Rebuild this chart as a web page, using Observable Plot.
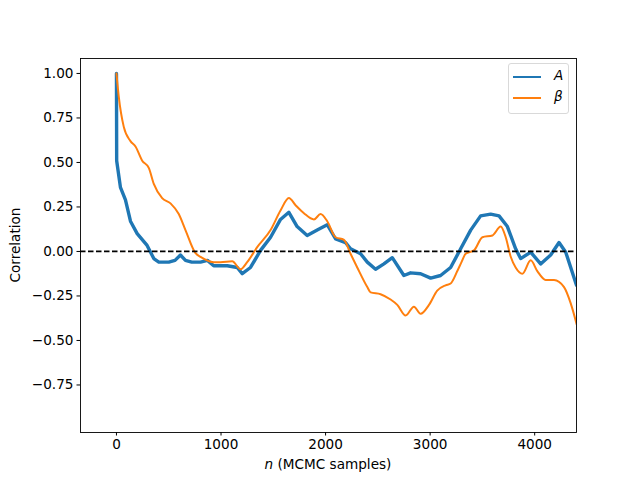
<!DOCTYPE html>
<html><head><meta charset="utf-8">
<script src="https://cdn.jsdelivr.net/npm/d3@7"></script>
<script src="https://cdn.jsdelivr.net/npm/@observablehq/plot@0.6"></script>
<style>
body{margin:0;background:#fff;font-family:"DejaVu Sans",sans-serif;}
#wrap{position:relative;width:640px;height:480px;}
.lab{position:absolute;font-size:13.6px;color:#000;white-space:nowrap;line-height:16px;}
#legend{position:absolute;left:508px;top:63px;width:61px;height:51px;box-sizing:border-box;border:1px solid #d9d9d9;border-radius:3px;background:rgba(255,255,255,0.8);font-size:13.6px;}
#legend .row{position:absolute;left:4px;height:14px;width:56px;}
#legend .sw{position:absolute;left:0;top:6px;width:28px;height:2px;}
#legend .t{position:absolute;left:41px;top:-3px;font-style:italic;line-height:16px;}
</style></head>
<body><div id="wrap"></div>
<script>
const nA = [0,2,38,86,134,198,293,357,405,500,560,612,660,720,804,870,930,995,1060,1155,1203,1282,1378,1474,1569,1649,1728,1824,1920,2016,2096,2191,2239,2335,2399,2478,2558,2638,2749,2813,2909,3005,3100,3196,3292,3388,3483,3579,3659,3739,3818,3866,3962,4057,4153,4233,4297,4400];
const vA = [1.0,0.51,0.36,0.29,0.17,0.10,0.034,-0.04,-0.06,-0.06,-0.05,-0.02,-0.05,-0.06,-0.06,-0.05,-0.08,-0.08,-0.08,-0.09,-0.125,-0.09,0.006,0.08,0.18,0.22,0.14,0.09,0.12,0.15,0.07,0.05,0.015,-0.013,-0.06,-0.10,-0.07,-0.035,-0.135,-0.12,-0.125,-0.15,-0.135,-0.09,0.015,0.12,0.20,0.21,0.20,0.14,0.015,-0.04,-0.004,-0.07,-0.02,0.05,-0.004,-0.19];
const nB = [0,22,70,134,182,246,309,357,437,517,596,660,756,804,931,995,1107,1187,1250,1346,1474,1569,1649,1713,1793,1889,1952,2016,2096,2176,2239,2303,2399,2431,2526,2622,2686,2766,2845,2909,2989,3068,3148,3196,3260,3300,3340,3420,3500,3596,3675,3723,3771,3818,3882,3962,4025,4105,4185,4281,4344,4402];
const vB = [1.0,0.87,0.70,0.62,0.59,0.51,0.47,0.38,0.30,0.27,0.21,0.12,-0.01,-0.03,-0.06,-0.06,-0.055,-0.10,-0.06,0.024,0.12,0.23,0.30,0.26,0.215,0.18,0.21,0.17,0.08,0.065,-0.013,-0.09,-0.20,-0.23,-0.24,-0.27,-0.30,-0.36,-0.31,-0.35,-0.30,-0.22,-0.19,-0.18,-0.11,-0.06,-0.013,0.006,0.08,0.09,0.14,0.08,-0.03,-0.09,-0.125,-0.05,-0.11,-0.16,-0.16,-0.20,-0.29,-0.41];
const xTicks = [0,1000,2000,3000,4000];
const yTicks = [-0.75,-0.5,-0.25,0,0.25,0.5,0.75,1.0];
const seriesNames = ["A","β"];
const colors = ["#1f77b4","#ff7f0e"];

const A = nA.map((n,i)=>({n, v:vA[i]}));
const B = nB.map((n,i)=>({n, v:vB[i]}));
const fmtY = d => (d<0?"\u2212":"") + Math.abs(d).toFixed(2);

const chart = Plot.plot({
  width:640, height:480,
  marginLeft:80, marginRight:64, marginTop:58, marginBottom:48,
  style:{fontFamily:"DejaVu Sans, sans-serif", fontSize:"13.6px", color:"#000", background:"#fff"},
  x:{domain:[-344,4400]},
  y:{domain:[-1.017,1.084]},
  marks:[
    Plot.lineY(A,{x:"n", y:"v", stroke:colors[0], strokeWidth:3.4, clip:true}),
    Plot.lineY(B,{x:"n", y:"v", stroke:colors[1], strokeWidth:2, curve:"monotone-x", clip:true}),
    Plot.ruleY([0],{stroke:"#000", strokeWidth:1.8, strokeDasharray:"5.5,2.5"}),
    Plot.frame({stroke:"#000", strokeWidth:0.9}),
    Plot.axisX({ticks:xTicks, tickSize:3.5, tickPadding:3.5, label:null, tickFormat:d=>String(d), fontSize:13.6}),
    Plot.axisY({ticks:yTicks, tickSize:3.5, tickPadding:3.5, label:null, tickFormat:fmtY, fontSize:13.6})
  ]
});
const wrap = document.getElementById("wrap");
wrap.appendChild(chart);

const xl = document.createElement("div");
xl.className="lab";
xl.innerHTML = "<i>n</i> (MCMC samples)";
xl.style.left="228px"; xl.style.top="456px"; xl.style.width="200px"; xl.style.textAlign="center";
wrap.appendChild(xl);

const yl = document.createElement("div");
yl.className="lab";
yl.textContent="Correlation";
yl.style.left="-35px"; yl.style.top="237px"; yl.style.width="100px"; yl.style.textAlign="center";
yl.style.transform="rotate(-90deg)";
wrap.appendChild(yl);

const lg = document.createElement("div");
lg.id="legend";
seriesNames.forEach((s,i)=>{
  const r=document.createElement("div");
  r.className="row"; r.style.top=(6+i*21)+"px";
  r.innerHTML=`<div class="sw" style="background:${colors[i]}"></div><div class="t">${s}</div>`;
  lg.appendChild(r);
});
wrap.appendChild(lg);
</script></body></html>
